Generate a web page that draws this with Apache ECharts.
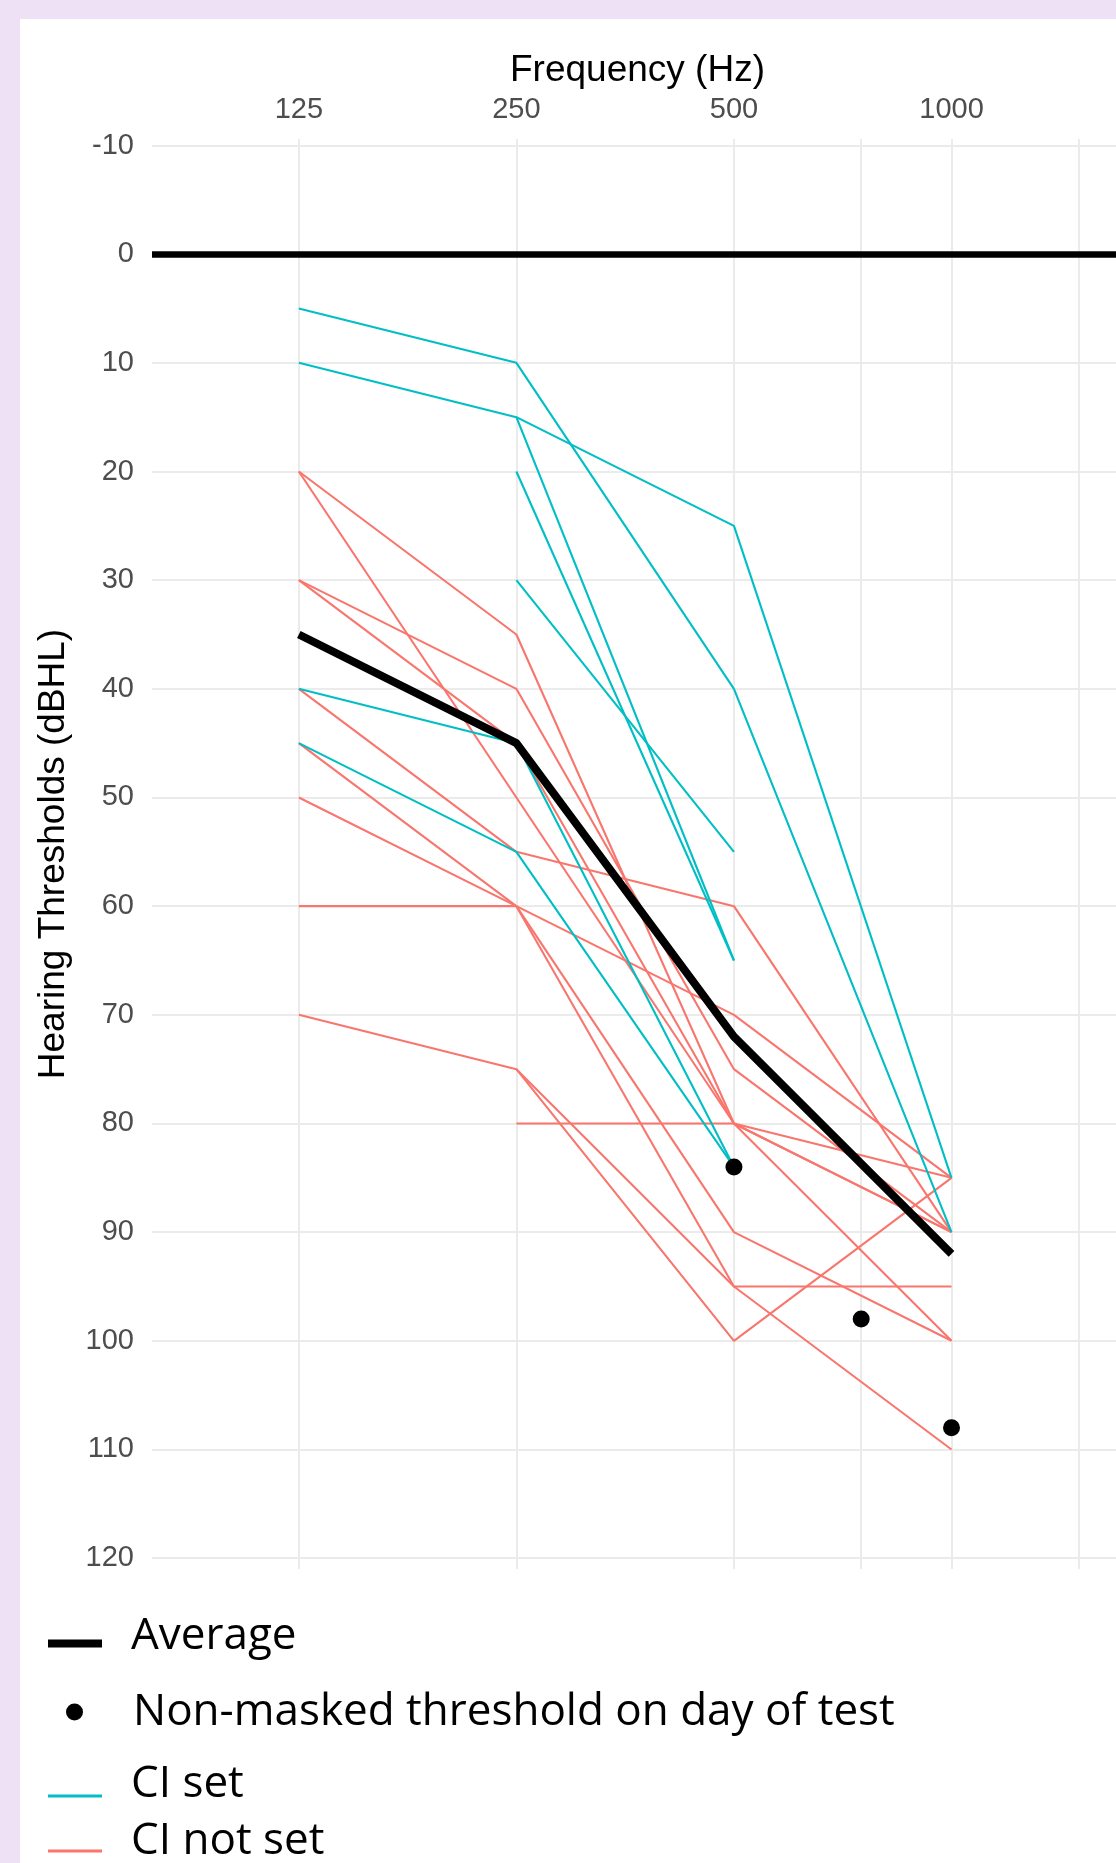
<!DOCTYPE html>
<html><head><meta charset="utf-8">
<script src="https://cdn.jsdelivr.net/npm/echarts@6/dist/echarts.min.js"></script>
<style>
html,body{margin:0;padding:0;width:1116px;height:1863px;overflow:hidden;background:#EEE1F5;}
#panel{position:absolute;left:20px;top:19px;width:1096px;height:1844px;background:#ffffff;}
#chart{position:absolute;left:0;top:0;width:1200px;height:1863px;}
</style></head><body>
<div id="panel"></div><div id="chart"></div>
<script>
// ---- data ----
const freqs = [125, 250, 500, 1000];
const gridFreqs = [125, 250, 500, 750, 1000, 1500];
const labelFreqs = [125, 250, 500, 1000];
const yTicks = [-10, 0, 10, 20, 30, 40, 50, 60, 70, 80, 90, 100, 110, 120];
// CI set participants (dBHL at 125/250/500/1000 Hz, null = not tested)
const ciSet = [
  [5, 10, 40, 90],
  [10, 15, 25, 85],
  [null, 15, 65, null],
  [null, 20, 65, null],
  [null, 30, 55, null],
  [40, 45, 84, null],
  [45, 55, 84, null]
];
// CI not set participants
const ciNotSet = [
  [20, 35, 80, 90],
  [20, 50, 80, 100],
  [30, 40, 75, 90],
  [30, 45, 80, 90],
  [40, 55, 60, 90],
  [45, 60, 70, 85],
  [50, 60, 90, 100],
  [60, 60, 95, 95],
  [70, 75, 95, 110],
  [null, 75, 100, 85],
  [null, 80, 80, 85]
];
const average = [35, 45, 72, 92];
const nonMaskedFreqs = [500, 750, 1000];
const nonMasked = [84, 98, 108];

// ---- build ----
const toX = f => Math.log2(f);
const xMinHz = 78.3, xMaxHz = 1727;
function rowData(row) { return freqs.map((f, i) => [toX(f), row[i] == null ? '-' : row[i]]); }

const RED = '#F8766D', TEAL = '#00BFC4';
const series = [];
ciNotSet.forEach(r => series.push({
  type: 'line', name: 'CI not set', data: rowData(r), symbol: 'none', silent: true, z: 2,
  lineStyle: { color: RED, width: 2.1 }, itemStyle: { color: RED }
}));
ciSet.forEach(r => series.push({
  type: 'line', name: 'CI set', data: rowData(r), symbol: 'none', silent: true, z: 3,
  lineStyle: { color: TEAL, width: 2.1 }, itemStyle: { color: TEAL }
}));
series.push({
  type: 'line', name: 'Average', data: rowData(average), symbol: 'none', silent: true, z: 4,
  lineStyle: { color: '#000', width: 8, join: 'round' }, itemStyle: { color: '#000' },
  markLine: {
    silent: true, symbol: 'none', label: { show: false },
    lineStyle: { color: '#000', width: 6.5, type: 'solid' },
    data: [{ yAxis: 0 }]
  }
});
series.push({
  type: 'scatter', name: 'Non-masked threshold on day of test', z: 5,
  data: nonMaskedFreqs.map((f, i) => [toX(f), nonMasked[i]]),
  symbol: 'circle', symbolSize: 17, itemStyle: { color: '#000', opacity: 1 }, silent: true
});

// legend icon: visible bar of height h sitting at the bottom of a box of height H
function barIcon(w, h, H) {
  return 'path://M0,0L' + w + ',0L' + w + ',0.001L0,0.001Z M0,' + (H - h) + 'L' + w + ',' + (H - h) + 'L' + w + ',' + H + 'L0,' + H + 'Z';
}
const legFont = { fontFamily: 'Open Sans', fontSize: 44, color: '#000' };
function leg(name, icon, left, top, w, h, padL) {
  return {
    data: [{ name: name, icon: icon }], left: left, top: top, padding: 0,
    itemWidth: w, itemHeight: h, selectedMode: false, orient: 'vertical',
    itemStyle: { borderWidth: 0, opacity: 1 },
    textStyle: Object.assign({ padding: [0, 0, 0, padL] }, legFont)
  };
}

const axisFont = { fontFamily: 'Liberation Sans', fontSize: 29, color: '#4D4D4D' };
const option = {
  animation: false,
  grid: { left: 152, top: 139, width: 971, height: 1430, containLabel: false },
  xAxis: {
    type: 'value', position: 'top', min: toX(xMinHz), max: toX(xMaxHz),
    name: 'Frequency (Hz)', nameLocation: 'middle', nameGap: 50,
    nameTextStyle: { fontFamily: 'Liberation Sans', fontSize: 37, color: '#000' },
    axisLine: { show: false },
    axisTick: { show: false, customValues: gridFreqs.map(toX) },
    axisLabel: Object.assign({
      customValues: labelFreqs.map(toX), margin: 15,
      formatter: v => String(Math.round(Math.pow(2, v)))
    }, axisFont),
    splitLine: { show: true, lineStyle: { color: '#EBEBEB', width: 2 } }
  },
  yAxis: {
    type: 'value', inverse: true, min: -10.6, max: 121,
    name: 'Hearing Thresholds (dBHL)', nameLocation: 'middle', nameGap: 80, nameRotate: 90,
    nameTextStyle: { fontFamily: 'Liberation Sans', fontSize: 37, color: '#000' },
    axisLine: { show: false },
    axisTick: { show: false, customValues: yTicks },
    axisLabel: Object.assign({ customValues: yTicks, margin: 18 }, axisFont),
    splitLine: { show: true, lineStyle: { color: '#EBEBEB', width: 2 } }
  },
  legend: [
    leg('Average', barIcon(54, 8, 23), 48, 1614, 54, 23, 24),
    leg('Non-masked threshold on day of test', 'circle', 66, 1690, 17, 17, 45),
    leg('CI set', barIcon(54, 3, 27), 48, 1762, 54, 27, 24),
    leg('CI not set', barIcon(54, 3, 23), 48, 1819, 54, 23, 24)
  ],
  series: series
};
const chart = echarts.init(document.getElementById('chart'), null, { renderer: 'canvas' });
chart.setOption(option);
</script>
</body></html>
